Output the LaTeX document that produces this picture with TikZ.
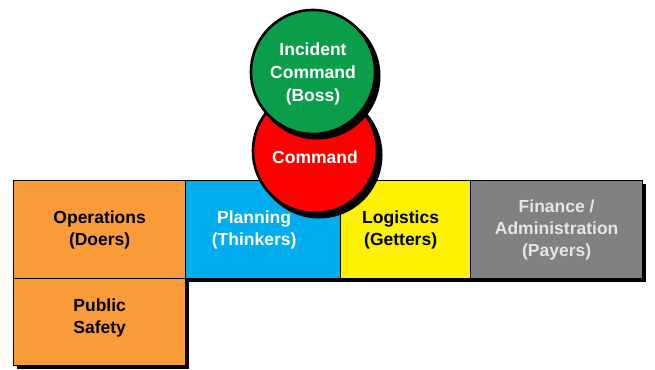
\documentclass[tikz,border=0pt]{standalone}
\usepackage{fontspec}
\setmainfont{Liberation Sans}
\definecolor{opsorange}{HTML}{F99B38}
\definecolor{planblue}{HTML}{00AEEF}
\definecolor{logyellow}{HTML}{FFF200}
\definecolor{fingray}{HTML}{7F8183}
\definecolor{cmdred}{HTML}{FF0000}
\definecolor{icgreen}{HTML}{0B9E4A}
\tikzset{
  x=1pt, y=-1pt,
  box/.style={draw=black, line width=1.3pt, minimum height=98pt, inner sep=0pt},
  lbl/.style={align=center, font=\fontsize{17.5}{22}\selectfont\bfseries},
  circ/.style={circle, draw=black, line width=2.6pt, minimum size=124pt, inner sep=0pt, align=center,
     text=white, font=\fontsize{17.5}{23}\selectfont\bfseries},
}
\begin{document}
\begin{tikzpicture}
\useasboundingbox (0,0) rectangle (655,369);
% shadows of boxes
\fill[black] (17,184) rectangle (189,282);
\fill[black] (189,184) rectangle (344,282);
\fill[black] (344,184) rectangle (474,282);
\fill[black] (474,184) rectangle (646,282);
\fill[black] (17,282) rectangle (189,369);
% boxes
\node[box, fill=opsorange, minimum width=172pt, anchor=north west] (ops) at (13,180) {};
\node[box, fill=planblue, minimum width=155pt, anchor=north west] (plan) at (185,180) {};
\node[box, fill=logyellow, minimum width=130pt, anchor=north west] (log) at (340,180) {};
\node[box, fill=fingray, minimum width=172pt, anchor=north west] (fin) at (470,180) {};
\node[box, fill=opsorange, minimum width=172pt, minimum height=87pt, anchor=north west] (ps) at (13,278) {};
% labels
\node[lbl] (opst) at ([yshift=0pt]ops.center) {Operations\\(Doers)};
\node[lbl, text=white] (plant) at ([xshift=-9pt]plan.center) {Planning\\(Thinkers)};
\node[lbl] (logt) at ([xshift=-5pt]log.center) {Logistics\\(Getters)};
\node[lbl, text=white!90!black] (fint) at (fin.center) {Finance /\\Administration\\(Payers)};
\node[lbl] (pst) at ([yshift=4pt]ps.center) {Public\\Safety};
% red circle
\fill[black] (319,155) circle (63.5pt);
\node[circ, fill=cmdred] (cmd) at (315,151) {};
\node[lbl, text=white] (cmdt) at ([yshift=-6pt]cmd.center) {Command};
% green circle
\fill[black] (317,76) circle (63.5pt);
\node[circ, fill=icgreen] (ic) at (313,72) {};
\node[circ, draw=none, fill=none] (ict) at ([yshift=-2pt]ic.center) {Incident\\Command\\(Boss)};
\end{tikzpicture}
\end{document}
